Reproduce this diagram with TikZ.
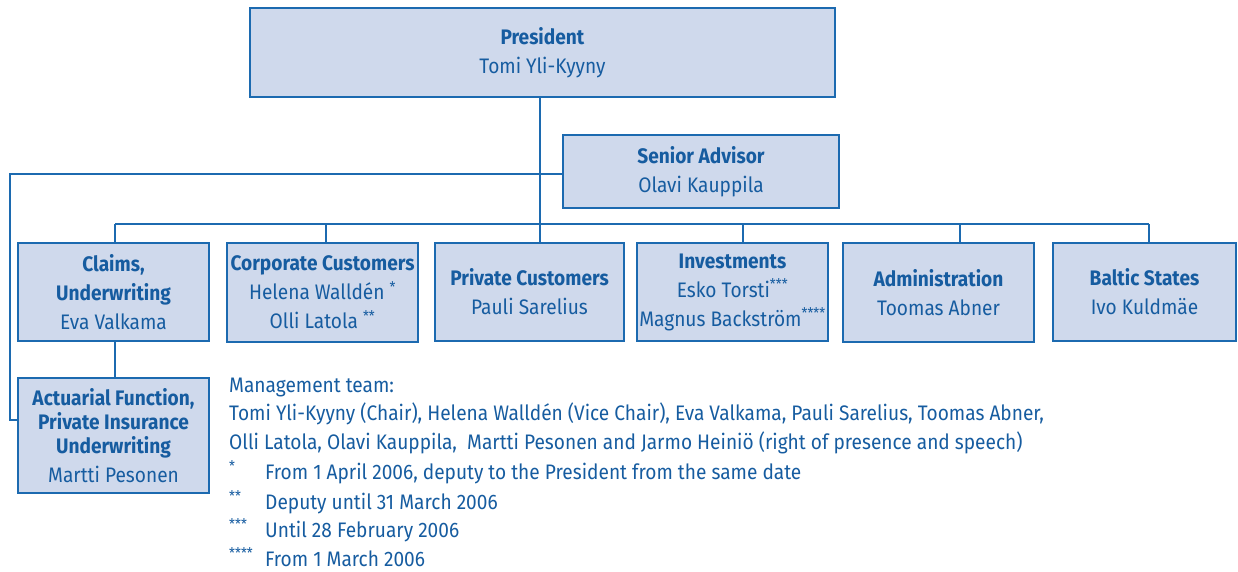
\documentclass[tikz,border=0pt]{standalone}
\usepackage{fontspec}
\setmainfont{Fira Sans}[FakeStretch=0.91]
\definecolor{boxfill}{RGB}{207,217,236}
\definecolor{rule}{RGB}{28,106,176}
\definecolor{ink}{RGB}{22,92,160}
\begin{document}
\begin{tikzpicture}[x=1pt,y=-1pt,
  unit/.style={draw=rule, fill=boxfill, line width=2pt, inner sep=0pt,
    align=center, text=ink, font=\fontsize{21}{29}\selectfont},
  link/.style={draw=rule, line width=2pt},
  note/.style={anchor=base west, inner sep=0pt, text=ink,
    font=\fontsize{21}{29}\selectfont}]
\useasboundingbox (0,0) rectangle (1238,571);

% boxes
\node[unit, minimum width=585pt, minimum height=89pt] (pres) at (542.5,52.5)
  {\textbf{President}\\Tomi Yli-Kyyny};
\node[unit, minimum width=276pt, minimum height=73pt] (senior) at (701,171.5)
  {\textbf{Senior Advisor}\\Olavi Kauppila};
\node[unit, minimum width=191pt, minimum height=98pt] (claims) at (113.5,292)
  {\textbf{Claims,}\\\textbf{Underwriting}\\Eva Valkama};
\node[unit, minimum width=191pt, minimum height=99pt] (corp) at (322.5,292.5)
  {\textbf{Corporate Customers}\\Helena Walldén \textsuperscript{*}\\Olli Latola \textsuperscript{**}};
\node[unit, minimum width=189pt, minimum height=98pt] (priv) at (529.5,292)
  {\textbf{Private Customers}\\Pauli Sarelius};
\node[unit, minimum width=191pt, minimum height=98pt] (inv) at (732.5,292)
  {\textbf{Investments}\\Esko Torsti\textsuperscript{***}\\Magnus Backström\textsuperscript{****}};
\node[unit, minimum width=191pt, minimum height=99pt] (admin) at (938.5,292.5)
  {\textbf{Administration}\\Toomas Abner};
\node[unit, minimum width=183pt, minimum height=98pt] (baltic) at (1144.5,292)
  {\textbf{Baltic States}\\Ivo Kuldmäe};
\node[unit, minimum width=191pt, minimum height=115pt] (act) at (113.5,435.5)
  {\textbf{Actuarial Function,}\\[-5pt]\textbf{Private Insurance}\\[-5pt]\textbf{Underwriting}\\Martti Pesonen};

% junctions on the department bus
\coordinate (jc) at (115,224);
\coordinate (jk) at (326,224);
\coordinate (jp) at (540,224);
\coordinate (ji) at (743,224);
\coordinate (ja) at (960,224);
\coordinate (jb) at (1149,224);
\coordinate (lt) at (10,174);
\coordinate (lb) at (10,420);

% connectors
\draw[link] (pres.south -| jp) -- (jp) -- (priv.north -| jp);
\draw[link] (jc) -- (jb);
\draw[link] (jc) -- (claims.north -| jc);
\draw[link] (jk) -- (corp.north -| jk);
\draw[link] (ji) -- (inv.north -| ji);
\draw[link] (ja) -- (admin.north -| ja);
\draw[link] (jb) -- (baltic.north -| jb);
\draw[link] (senior.west |- lt) -- (lt) -- (lb) -- (act.west |- lb);
\draw[link] (claims.south -| jc) -- (act.north -| jc);

% management team and footnotes
\node[note] (mt) at (229,392) {Management team:};
\node[note] (mt1) at (229,420) {Tomi Yli-Kyyny (Chair), Helena Walldén (Vice Chair), Eva Valkama, Pauli Sarelius, Toomas Abner,};
\node[note] (mt2) at (229,449) {Olli Latola, Olavi Kauppila,\ \ Martti Pesonen and Jarmo Heiniö (right of presence and speech)};
\node[note] (fm1) at (229,479) {\textsuperscript{*}};
\node[note] (fn1) at (265,479) {From 1 April 2006, deputy to the President from the same date};
\node[note] (fm2) at (229,509) {\textsuperscript{**}};
\node[note] (fn2) at (265,509) {Deputy until 31 March 2006};
\node[note] (fm3) at (229,537) {\textsuperscript{***}};
\node[note] (fn3) at (265,537) {Until 28 February 2006};
\node[note] (fm4) at (229,566) {\textsuperscript{****}};
\node[note] (fn4) at (265,566) {From 1 March 2006};
\end{tikzpicture}
\end{document}
